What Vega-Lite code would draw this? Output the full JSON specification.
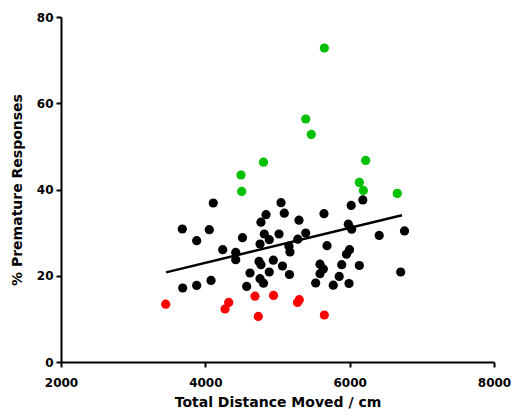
{
  "$schema": "https://vega.github.io/schema/vega-lite/v6.json",
  "autosize": {"type": "none"},
  "padding": {"left": 61, "top": 17, "right": 18, "bottom": 54},
  "width": 433,
  "height": 345,
  "background": "white",
  "config": {
    "view": {"stroke": null},
    "axis": {
      "grid": false,
      "domainColor": "black",
      "domainWidth": 2,
      "tickColor": "black",
      "tickWidth": 2,
      "tickSize": 5,
      "labelFont": "DejaVu Sans",
      "labelFontWeight": "bold",
      "labelFontSize": 12,
      "labelColor": "black",
      "titleFont": "DejaVu Sans",
      "titleFontWeight": "bold",
      "titleFontSize": 14,
      "titleColor": "black"
    }
  },
  "datasets": {
    "pts": [
      {"x": 3681, "y": 30.84, "g": "black"},
      {"x": 3686, "y": 17.16, "g": "black"},
      {"x": 3880, "y": 28.13, "g": "black"},
      {"x": 3880, "y": 17.76, "g": "black"},
      {"x": 4055, "y": 30.68, "g": "black"},
      {"x": 4079, "y": 18.92, "g": "black"},
      {"x": 4110, "y": 36.87, "g": "black"},
      {"x": 4241, "y": 26.04, "g": "black"},
      {"x": 4421, "y": 25.41, "g": "black"},
      {"x": 4421, "y": 23.72, "g": "black"},
      {"x": 4515, "y": 28.82, "g": "black"},
      {"x": 4573, "y": 17.53, "g": "black"},
      {"x": 4619, "y": 20.64, "g": "black"},
      {"x": 4744, "y": 23.33, "g": "black"},
      {"x": 4771, "y": 22.56, "g": "black"},
      {"x": 4758, "y": 19.32, "g": "black"},
      {"x": 4806, "y": 18.27, "g": "black"},
      {"x": 4758, "y": 27.36, "g": "black"},
      {"x": 4817, "y": 29.68, "g": "black"},
      {"x": 4886, "y": 28.36, "g": "black"},
      {"x": 4771, "y": 32.42, "g": "black"},
      {"x": 4841, "y": 34.16, "g": "black"},
      {"x": 4886, "y": 20.87, "g": "black"},
      {"x": 4942, "y": 23.61, "g": "black"},
      {"x": 5021, "y": 29.68, "g": "black"},
      {"x": 5049, "y": 36.94, "g": "black"},
      {"x": 5094, "y": 34.5, "g": "black"},
      {"x": 5069, "y": 22.26, "g": "black"},
      {"x": 5159, "y": 26.85, "g": "black"},
      {"x": 5173, "y": 25.51, "g": "black"},
      {"x": 5166, "y": 20.29, "g": "black"},
      {"x": 5281, "y": 28.47, "g": "black"},
      {"x": 5298, "y": 32.88, "g": "black"},
      {"x": 5391, "y": 29.91, "g": "black"},
      {"x": 5529, "y": 18.32, "g": "black"},
      {"x": 5589, "y": 22.68, "g": "black"},
      {"x": 5635, "y": 21.56, "g": "black"},
      {"x": 5589, "y": 20.48, "g": "black"},
      {"x": 5644, "y": 34.39, "g": "black"},
      {"x": 5686, "y": 26.97, "g": "black"},
      {"x": 5773, "y": 17.81, "g": "black"},
      {"x": 5855, "y": 19.85, "g": "black"},
      {"x": 5890, "y": 22.56, "g": "black"},
      {"x": 5956, "y": 25.0, "g": "black"},
      {"x": 5998, "y": 26.04, "g": "black"},
      {"x": 5991, "y": 18.2, "g": "black"},
      {"x": 5981, "y": 31.95, "g": "black"},
      {"x": 6028, "y": 30.79, "g": "black"},
      {"x": 6021, "y": 36.31, "g": "black"},
      {"x": 6182, "y": 37.59, "g": "black"},
      {"x": 6134, "y": 22.38, "g": "black"},
      {"x": 6409, "y": 29.36, "g": "black"},
      {"x": 6707, "y": 20.87, "g": "black"},
      {"x": 6760, "y": 30.4, "g": "black"},
      {"x": 3451, "y": 13.4, "g": "red"},
      {"x": 4273, "y": 12.29, "g": "red"},
      {"x": 4324, "y": 13.82, "g": "red"},
      {"x": 4688, "y": 15.26, "g": "red"},
      {"x": 4734, "y": 10.57, "g": "red"},
      {"x": 4945, "y": 15.44, "g": "red"},
      {"x": 5277, "y": 13.82, "g": "red"},
      {"x": 5302, "y": 14.45, "g": "red"},
      {"x": 5649, "y": 10.9, "g": "red"},
      {"x": 4494, "y": 43.36, "g": "green"},
      {"x": 4504, "y": 39.56, "g": "green"},
      {"x": 4806, "y": 46.33, "g": "green"},
      {"x": 5391, "y": 56.35, "g": "green"},
      {"x": 5468, "y": 52.78, "g": "green"},
      {"x": 5649, "y": 72.81, "g": "green"},
      {"x": 6134, "y": 41.65, "g": "green"},
      {"x": 6189, "y": 39.79, "g": "green"},
      {"x": 6222, "y": 46.75, "g": "green"},
      {"x": 6660, "y": 39.1, "g": "green"}
    ],
    "fit": [
      {"x": 3455, "y": 20.78},
      {"x": 6725, "y": 34.04}
    ]
  },
  "layer": [
    {
      "data": {"name": "pts"},
      "mark": {"type": "circle", "size": 85, "opacity": 1},
      "encoding": {
        "x": {
          "field": "x", "type": "quantitative",
          "scale": {"domain": [2000, 8000], "nice": false, "zero": false},
          "axis": {"values": [2000, 4000, 6000, 8000], "format": "d", "title": "Total Distance Moved / cm", "labelPadding": 10, "titlePadding": 7, "labelFlush": false}
        },
        "y": {
          "field": "y", "type": "quantitative",
          "scale": {"domain": [0, 80], "nice": false},
          "axis": {"values": [0, 20, 40, 60, 80], "format": "d", "title": "% Premature Responses", "labelPadding": 3, "titlePadding": 12}
        },
        "color": {
          "field": "g", "type": "nominal",
          "scale": {"domain": ["black", "red", "green"], "range": ["#000000", "#ff0000", "#00c000"]},
          "legend": null
        }
      }
    },
    {
      "data": {"name": "fit"},
      "mark": {"type": "line", "color": "black", "strokeWidth": 2.5},
      "encoding": {
        "x": {"field": "x", "type": "quantitative"},
        "y": {"field": "y", "type": "quantitative"}
      }
    }
  ]
}
